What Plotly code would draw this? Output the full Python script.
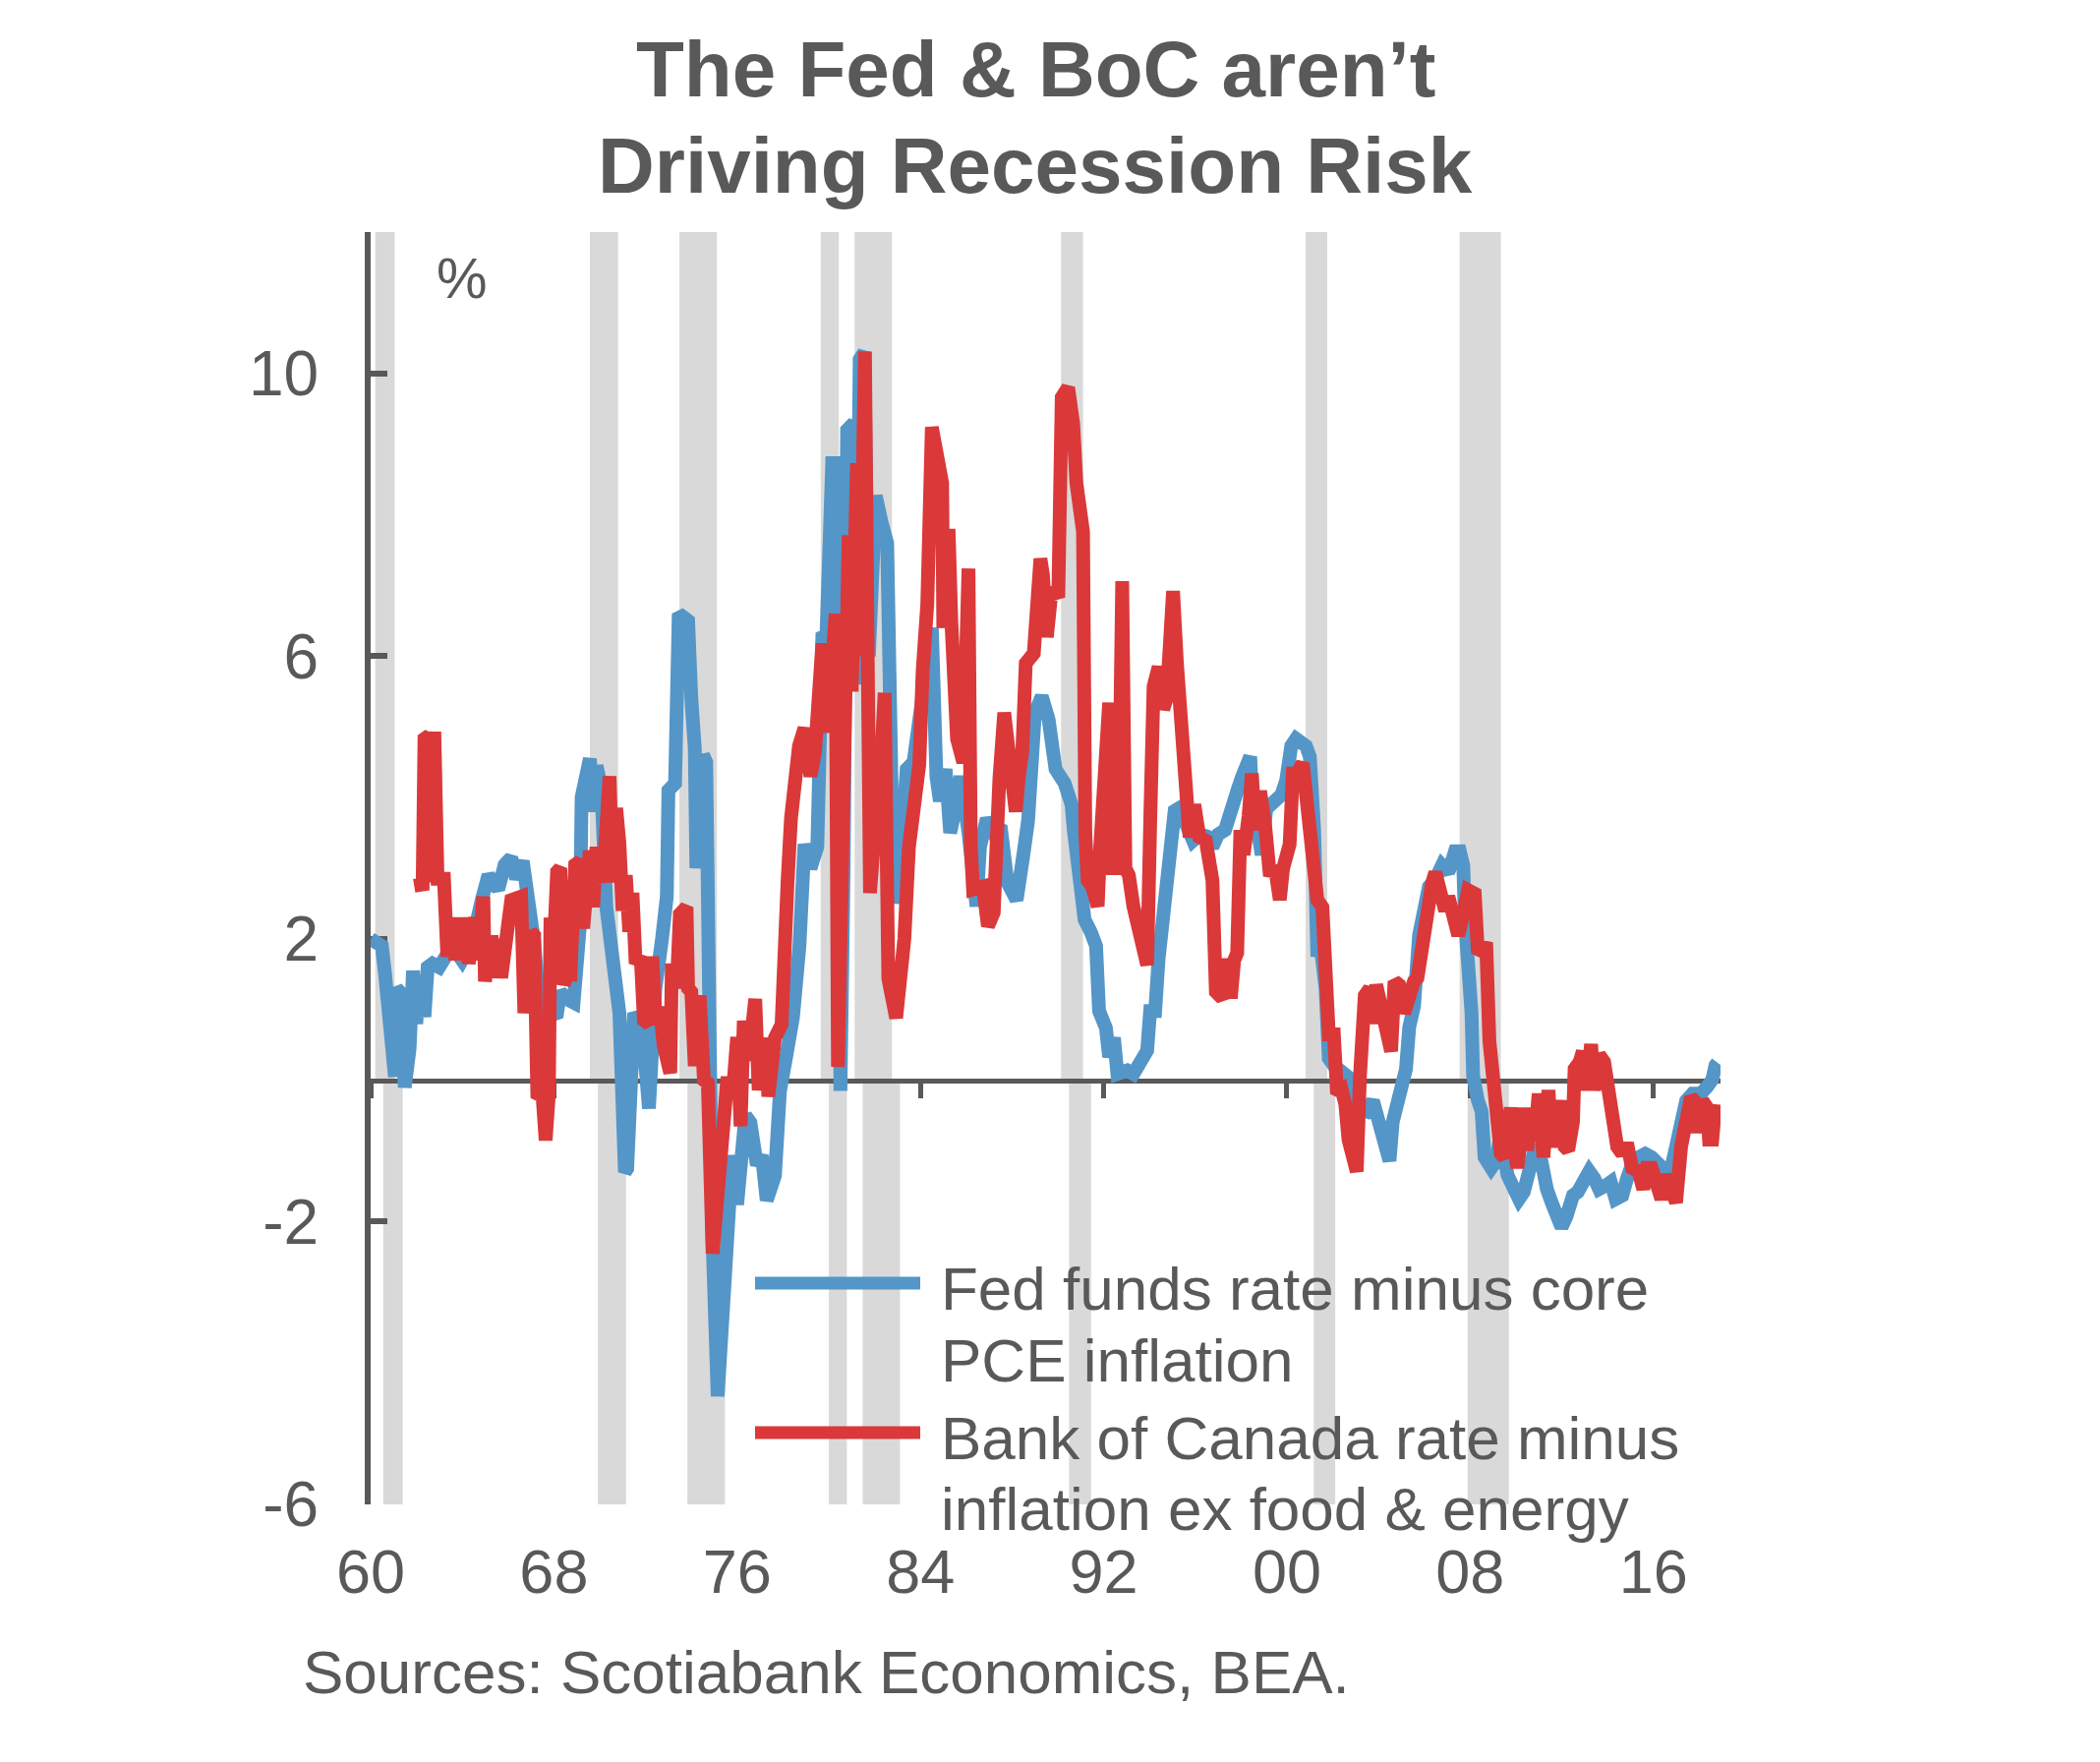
import plotly.graph_objects as go

# ---------------- data ----------------
fed_years = [1960.0, 1960.49, 1960.63, 1960.77, 1960.92, 1961.06, 1961.13, 1961.27, 1961.49, 1961.7,
             1961.85, 1961.99, 1962.13, 1962.35, 1962.49, 1962.7, 1962.99, 1963.28, 1963.56, 1963.99,
             1964.42, 1964.85, 1965.14, 1965.57, 1965.85, 1966.14, 1966.35, 1966.64, 1966.85, 1967.14,
             1967.43, 1967.71, 1968.14, 1968.28, 1968.57, 1968.86, 1969.14, 1969.21, 1969.57, 1969.71,
             1969.86, 1970.07, 1970.29, 1970.57, 1970.86, 1971.1, 1971.2, 1971.5, 1971.86, 1972.15,
             1972.43, 1972.72, 1972.93, 1973.0, 1973.29, 1973.45, 1973.86, 1974.0, 1974.15, 1974.22,
             1974.51, 1974.65, 1974.9, 1975.15, 1975.43, 1975.58, 1975.79, 1976.0, 1976.36, 1976.58,
             1976.86, 1977.08, 1977.29, 1977.65, 1977.87, 1978.15, 1978.44, 1978.72, 1978.94, 1979.2,
             1979.5, 1979.72, 1979.9, 1980.15, 1980.3, 1980.4, 1980.51, 1980.65, 1980.8, 1981.1,
             1981.2, 1981.35, 1981.55, 1981.75, 1982.05, 1982.3, 1982.55, 1982.75, 1982.95, 1983.2,
             1983.4, 1983.7, 1984.0, 1984.3, 1984.5, 1984.7, 1984.85, 1985.1, 1985.3, 1985.5,
             1985.75, 1986.1, 1986.45, 1986.6, 1986.9, 1987.2, 1987.5, 1987.8, 1988.2, 1988.5,
             1988.7, 1989.0, 1989.3, 1989.6, 1989.9, 1990.3, 1990.6, 1990.7, 1990.95, 1991.17,
             1991.45, 1991.67, 1991.8, 1992.1, 1992.24, 1992.45, 1992.6, 1993.03, 1993.3, 1993.6,
             1993.9, 1994.03, 1994.25, 1994.4, 1994.6, 1994.75, 1994.9, 1995.1, 1995.3, 1995.9,
             1996.2, 1996.5, 1996.75, 1997.0, 1997.3, 1997.6, 1997.83, 1998.04, 1998.26, 1998.4,
             1998.47, 1998.69, 1998.9, 1999.1, 1999.47, 1999.76, 1999.97, 2000.19, 2000.4, 2000.6,
             2000.83, 2001.0, 2001.19, 2001.33, 2001.45, 2001.69, 2001.83, 2002.05, 2002.33, 2002.62,
             2002.76, 2002.9, 2003.05, 2003.48, 2003.76, 2004.05, 2004.26, 2004.48, 2004.62, 2004.9,
             2005.2, 2005.34, 2005.55, 2005.77, 2005.98, 2006.2, 2006.48, 2006.77, 2007.05, 2007.34,
             2007.55, 2007.7, 2007.77, 2007.91, 2008.06, 2008.13, 2008.2, 2008.34, 2008.5, 2008.63,
             2008.92, 2009.13, 2009.34, 2009.63, 2009.92, 2010.13, 2010.34, 2010.56, 2010.77, 2010.99,
             2011.13, 2011.35, 2011.56, 2011.78, 2011.99, 2012.2, 2012.35, 2012.49, 2012.7, 2012.92,
             2013.2, 2013.42, 2013.63, 2013.92, 2014.14, 2014.35, 2014.64, 2014.85, 2015.07, 2015.35,
             2015.64, 2015.92, 2016.21, 2016.42, 2016.71, 2016.99, 2017.21, 2017.43, 2017.71, 2018.07,
             2018.35, 2018.57, 2018.71, 2018.8]
fed_values = [2.0, 1.9, 1.5, 1.0, 0.1, 0.05, 1.3, 1.25, -0.1, 0.45,
              1.55, 0.8, 1.4, 0.9, 1.6, 1.65, 1.6, 1.8, 1.9, 1.7,
              1.95, 2.55, 2.9, 2.7, 3.05, 3.15, 2.85, 3.1, 2.7, 1.95,
              0.8, 0.9, 0.95, 1.25, 1.15, 1.1, 2.2, 4.0, 4.55, 3.8,
              4.45, 4.15, 2.45, 1.65, 0.95, -1.3, -1.25, 0.95, 0.75, -0.4,
              1.3, 2.0, 2.6, 4.1, 4.2, 6.6, 6.5, 5.4, 4.7, 3.0,
              4.6, 4.5, -2.0, -4.47, -2.83, -1.9, -1.06, -1.76, -0.5, -0.6,
              -1.2, -1.06, -1.7, -1.35, -0.15, 0.35, 0.9, 1.9, 3.34, 3.0,
              3.3, 6.27, 6.3, 8.73, 8.73, 5.0, -0.15, 3.0, 9.2, 9.3,
              5.6, 10.2, 10.3, 6.0, 8.27, 7.9, 7.6, 4.0, 2.5, 3.4,
              4.4, 4.5, 5.2, 5.9, 6.4, 4.3, 3.95, 4.4, 3.5, 3.8,
              4.3, 3.5, 2.46, 3.3, 3.7, 3.5, 3.6, 2.8, 2.55, 3.2,
              3.67, 5.2, 5.43, 5.1, 4.4, 4.2, 3.9, 3.53, 2.83, 2.27,
              2.09, 1.9, 0.98, 0.74, 0.33, 0.6, 0.09, 0.14, 0.09, 0.23,
              0.42, 0.98, 0.98, 1.72, 2.42, 2.97, 3.3, 3.81, 3.85, 3.39,
              3.48, 3.45, 3.3, 3.48, 3.54, 3.94, 4.09, 4.29, 4.58, 4.58,
              4.04, 3.64, 3.19, 3.84, 3.94, 4.04, 4.24, 4.73, 4.83, 4.78,
              4.73, 4.58, 3.54, 1.75, 1.95, 1.3, 0.31, 0.21, 0.16, 0.06,
              -0.44, -0.74, -0.39, -0.44, -0.29, -0.64, -0.99, -1.14, -0.59, -0.29,
              0.16, 0.75, 1.05, 2.05, 2.55, 2.74, 2.84, 3.04, 2.94, 3.24,
              3.24, 3.04, 2.3, 1.8, 0.95, 0.06, -0.24, -0.29, -0.44, -1.09,
              -1.24, -1.14, -0.74, -1.34, -1.54, -1.68, -1.58, -1.24, -1.04, -0.94,
              -1.24, -1.54, -1.73, -1.98, -2.08, -1.93, -1.78, -1.63, -1.58, -1.44,
              -1.29, -1.39, -1.54, -1.49, -1.44, -1.68, -1.63, -1.39, -1.19, -1.09,
              -1.04, -1.09, -1.19, -1.24, -1.34, -0.94, -0.59, -0.29, -0.19, -0.19,
              -0.09, 0.01, 0.21, 0.25]

boc_years = [1961.9, 1962.27, 1962.35, 1962.56, 1962.63, 1962.78, 1962.92, 1963.2, 1963.35, 1963.56,
             1963.7, 1963.85, 1964.0, 1964.13, 1964.28, 1964.56, 1964.7, 1964.92, 1964.99, 1965.28,
             1965.35, 1965.57, 1965.7, 1965.99, 1966.14, 1966.57, 1966.71, 1967.0, 1967.14, 1967.28,
             1967.5, 1967.64, 1967.78, 1967.85, 1968.0, 1968.14, 1968.28, 1968.43, 1968.57, 1968.64,
             1968.71, 1968.93, 1969.14, 1969.28, 1969.43, 1969.57, 1969.71, 1969.86, 1970.14, 1970.29,
             1970.43, 1970.57, 1970.72, 1970.86, 1971.0, 1971.14, 1971.29, 1971.43, 1971.57, 1971.79,
             1971.93, 1972.15, 1972.29, 1972.43, 1972.65, 1972.79, 1973.08, 1973.15, 1973.36, 1973.5,
             1973.79, 1973.86, 1974.0, 1974.15, 1974.36, 1974.55, 1974.72, 1974.93, 1975.22, 1975.43,
             1975.58, 1975.79, 1976.0, 1976.15, 1976.29, 1976.5, 1976.79, 1976.94, 1977.22, 1977.36,
             1977.65, 1977.94, 1978.1, 1978.2, 1978.35, 1978.7, 1978.94, 1979.2, 1979.4, 1979.72,
             1979.94, 1980.3, 1980.4, 1980.55, 1980.87, 1981.0, 1981.23, 1981.35, 1981.58, 1981.7,
             1981.8, 1982.0, 1982.2, 1982.44, 1982.6, 1982.94, 1983.15, 1983.3, 1983.5, 1983.7,
             1983.95, 1984.1, 1984.3, 1984.5, 1984.73, 1984.95, 1985.0, 1985.23, 1985.35, 1985.45,
             1985.6, 1985.87, 1986.1, 1986.2, 1986.3, 1986.73, 1986.95, 1987.2, 1987.3, 1987.45,
             1987.66, 1987.88, 1988.0, 1988.16, 1988.3, 1988.45, 1988.6, 1988.95, 1989.24, 1989.35,
             1989.52, 1989.74, 1990.02, 1990.17, 1990.45, 1990.67, 1990.81, 1991.1, 1991.2, 1991.3,
             1991.5, 1991.74, 1991.85, 1992.0, 1992.24, 1992.4, 1992.55, 1992.7, 1992.81, 1992.95,
             1993.1, 1993.3, 1993.5, 1993.75, 1993.9, 1994.04, 1994.18, 1994.4, 1994.6, 1994.75,
             1995.03, 1995.2, 1995.46, 1995.6, 1995.75, 1995.96, 1996.18, 1996.46, 1996.75, 1996.9,
             1997.18, 1997.4, 1997.55, 1997.7, 1997.83, 1997.97, 1998.11, 1998.33, 1998.47, 1998.61,
             1998.83, 1999.04, 1999.26, 1999.47, 1999.69, 1999.83, 2000.12, 2000.26, 2000.45, 2000.69,
             2000.9, 2001.12, 2001.33, 2001.55, 2001.69, 2001.83, 2002.05, 2002.19, 2002.4, 2002.55,
             2002.69, 2002.9, 2003.05, 2003.19, 2003.4, 2003.62, 2003.76, 2003.9, 2004.12, 2004.34,
             2004.55, 2004.7, 2004.9, 2005.12, 2005.34, 2005.55, 2005.7, 2005.84, 2005.98, 2006.13,
             2006.34, 2006.48, 2006.7, 2006.91, 2007.05, 2007.27, 2007.48, 2007.7, 2007.91, 2008.2,
             2008.34, 2008.56, 2008.7, 2008.84, 2008.99, 2009.2, 2009.34, 2009.49, 2009.63, 2009.77,
             2009.92, 2010.06, 2010.2, 2010.34, 2010.49, 2010.7, 2010.85, 2010.99, 2011.2, 2011.42,
             2011.56, 2011.78, 2011.92, 2012.13, 2012.28, 2012.49, 2012.56, 2012.78, 2012.92, 2013.06,
             2013.28, 2013.42, 2013.63, 2013.85, 2013.99, 2014.2, 2014.42, 2014.64, 2014.85, 2015.07,
             2015.35, 2015.56, 2015.71, 2015.92, 2016.14, 2016.35, 2016.57, 2016.85, 2016.99, 2017.21,
             2017.43, 2017.64, 2017.78, 2017.93, 2018.14, 2018.35, 2018.43, 2018.57, 2018.71]
boc_values = [2.75, 2.77, 4.83, 4.88, 2.8, 4.93, 2.85, 2.85, 1.75, 2.3,
              1.7, 2.3, 1.7, 2.3, 1.65, 2.3, 1.7, 2.6, 1.4, 2.05,
              1.45, 2.0, 1.45, 2.0, 2.55, 2.6, 0.95, 2.1, 2.05, -0.25,
              -0.2, -0.85, -0.2, 2.3, 1.9, 2.95, 3.0, 1.35, 1.5, 2.55,
              1.4, 3.05, 3.1, 2.15, 3.2, 3.25, 2.45, 3.3, 2.8, 3.9,
              4.3, 2.8, 3.85, 3.35, 2.4, 2.9, 2.1, 2.65, 1.65, 1.75,
              0.85, 0.8, 1.75, 0.95, 0.95, 0.5, 0.1, 1.65, 1.3, 2.35,
              2.45, 1.3, 1.25, 0.2, 1.2, 0.0, -0.04, -2.45, -1.43, -0.88,
              0.05, -0.27, 0.61, -0.65, 0.84, 0.28, 1.15, -0.14, 0.6, -0.23,
              0.6, 0.79, 1.6, 2.8, 3.7, 4.73, 4.98, 4.3, 4.65, 6.18,
              4.92, 6.6, 0.19, 3.0, 7.71, 5.5, 8.73, 6.0, 10.31, 6.0,
              2.65, 3.5, 4.0, 5.48, 1.44, 0.88, 1.44, 2.0, 3.3, 3.76,
              4.46, 5.8, 6.73, 9.24, 8.73, 8.45, 6.4, 7.8, 6.5, 6.0,
              4.83, 4.5, 7.24, 3.3, 2.7, 2.74, 2.18, 2.37, 4.2, 4.27,
              5.2, 4.6, 4.37, 3.8, 4.3, 4.65, 5.9, 6.04, 7.38, 7.15,
              6.27, 6.97, 6.83, 9.66, 9.8, 9.29, 8.45, 7.76, 3.5, 2.83,
              2.74, 2.46, 3.3, 4.5, 5.34, 3.0, 3.0, 4.4, 7.06, 3.0,
              2.9, 2.46, 2.09, 1.72, 1.63, 3.76, 5.57, 5.85, 5.25, 5.4,
              6.92, 5.9, 4.65, 4.0, 3.44, 3.9, 3.44, 3.39, 2.83, 1.25,
              1.16, 1.72, 1.16, 1.7, 1.8, 3.54, 3.19, 3.74, 4.34, 3.54,
              4.09, 3.64, 2.89, 3.04, 2.55, 2.99, 3.34, 4.34, 4.34, 4.49,
              3.89, 3.44, 2.55, 2.45, 1.3, 0.65, 0.65, -0.19, -0.14, -0.34,
              -0.84, -1.19, -1.29, 0.06, 1.2, 1.3, 0.8, 1.35, 0.95, 0.56,
              0.41, 1.4, 1.35, 0.95, 1.3, 1.4, 1.45, 1.75, 2.3, 2.45,
              2.79, 2.94, 2.64, 2.4, 2.6, 2.35, 2.05, 2.35, 2.69, 2.64,
              1.8, 1.85, 1.95, 0.56, -0.09, -0.64, -1.04, -1.09, -0.69, -0.39,
              -0.94, -1.24, -0.89, -0.39, -0.99, -0.49, -0.74, -0.19, -1.09, -0.14,
              -0.94, -0.39, -0.29, -0.94, -0.99, -0.59, 0.16, 0.26, 0.41, -0.14,
              0.51, -0.14, 0.36, 0.26, -0.14, -0.44, -0.94, -1.04, -0.89, -1.24,
              -1.29, -1.54, -1.24, -1.24, -1.54, -1.68, -1.34, -1.68, -1.73, -0.94,
              -0.64, -0.24, -0.29, -0.74, -0.29, -0.39, -0.84, -0.84, -0.34]

# recession periods (as shaded in the source, upper half); lower half drawn slightly offset
recession_start = [1960.2, 1969.57, 1973.48, 1979.65, 1981.13, 1990.14, 2000.82, 2007.54]
recession_end = [1961.05, 1970.8, 1975.12, 1980.44, 1982.76, 1991.1, 2001.76, 2009.34]
lower_offset = 0.35

x_tick_vals = [1960, 1968, 1976, 1984, 1992, 2000, 2008, 2016]
x_tick_text = ["60", "68", "76", "84", "92", "00", "08", "16"]
y_tick_vals = [-6, -2, 2, 6, 10]
y_tick_text = ["-6", "-2", "2", "6", "10"]
x_range = [1960, 2018.93]
y_range = [-6, 12]

title_lines = ["The Fed & BoC aren\u2019t", "Driving Recession Risk"]
fed_label = ["Fed funds rate minus core", "PCE inflation"]
boc_label = ["Bank of Canada rate minus", "inflation ex food & energy"]
source_text = "Sources: Scotiabank Economics, BEA."

# ---------------- style ----------------
BLUE = "#5496c8"
RED = "#db383a"
GREY = "#595959"
SHADE = "#d9d9d9"
FONT = "Liberation Sans, Arial, sans-serif"

W, H = 2136, 1792
L, R, T, B = 377, 386, 236, 262
pw, ph = W - L - R, H - T - B


def px(xp):
    return (xp - L) / pw


def py(yp):
    return (H - B - yp) / ph


fig = go.Figure()

fig.add_trace(go.Scatter(x=fed_years, y=fed_values, mode="lines",
                         line=dict(color=BLUE, width=14), showlegend=False, hoverinfo="skip"))
fig.add_trace(go.Scatter(x=boc_years, y=boc_values, mode="lines",
                         line=dict(color=RED, width=14), showlegend=False, hoverinfo="skip"))
# invisible trace to carry the zero-line axis
fig.add_trace(go.Scatter(x=[x_range[0]], y=[0], xaxis="x2", yaxis="y", mode="markers",
                         marker=dict(opacity=0), showlegend=False, hoverinfo="skip"))

shapes = []
for s, e in zip(recession_start, recession_end):
    shapes.append(dict(type="rect", xref="x", yref="y", x0=s, x1=e, y0=0, y1=y_range[1],
                       fillcolor=SHADE, line=dict(width=0), layer="below"))
    shapes.append(dict(type="rect", xref="x", yref="y", x0=s + lower_offset, x1=e + lower_offset,
                       y0=y_range[0], y1=0, fillcolor=SHADE, line=dict(width=0), layer="below"))

# legend samples
shapes.append(dict(type="line", xref="paper", yref="paper", x0=px(768), x1=px(936), y0=py(1305), y1=py(1305),
                   line=dict(color=BLUE, width=13)))
shapes.append(dict(type="line", xref="paper", yref="paper", x0=px(768), x1=px(936), y0=py(1457), y1=py(1457),
                   line=dict(color=RED, width=13)))

annotations = []
for i, t in enumerate(title_lines):
    annotations.append(dict(text="<b>" + t + "</b>", xref="paper", yref="paper", x=px(1053), y=py([71, 168][i]),
                            xanchor="center", yanchor="middle", showarrow=False,
                            font=dict(family=FONT, size=80, color=GREY)))
for i, t in enumerate(fed_label):
    annotations.append(dict(text=t, xref="paper", yref="paper", x=px(955), y=py([1310, 1383][i]),
                            xanchor="left", yanchor="middle", showarrow=False,
                            font=dict(family=FONT, size=62, color=GREY)))
for i, t in enumerate(boc_label):
    annotations.append(dict(text=t, xref="paper", yref="paper", x=px(955), y=py([1462, 1534][i]),
                            xanchor="left", yanchor="middle", showarrow=False,
                            font=dict(family=FONT, size=62, color=GREY)))
annotations.append(dict(text="%", xref="paper", yref="paper", x=px(470), y=py(282),
                        xanchor="center", yanchor="middle", showarrow=False,
                        font=dict(family=FONT, size=58, color=GREY)))
annotations.append(dict(text=source_text, xref="paper", yref="paper", x=px(306), y=py(1700),
                        xanchor="left", yanchor="middle", showarrow=False,
                        font=dict(family=FONT, size=62, color=GREY)))

fig.update_layout(
    width=W, height=H,
    margin=dict(l=L, r=R, t=T, b=B, pad=0),
    paper_bgcolor="white", plot_bgcolor="white",
    font=dict(family=FONT, color=GREY),
    shapes=shapes, annotations=annotations,
    xaxis=dict(range=x_range, tickvals=x_tick_vals, ticktext=x_tick_text, ticks="",
               showline=False, showgrid=False, zeroline=False,
               tickfont=dict(family=FONT, size=63, color=GREY), ticklabelstandoff=26),
    xaxis2=dict(range=x_range, overlaying="x", anchor="free", position=-y_range[0] / (y_range[1] - y_range[0]),
                side="bottom", tickvals=x_tick_vals, showticklabels=False,
                ticks="outside", ticklen=15, tickwidth=5, tickcolor=GREY,
                showline=True, linecolor=GREY, linewidth=5, showgrid=False, zeroline=False,
                layer="below traces"),
    yaxis=dict(range=y_range, tickvals=y_tick_vals, ticktext=y_tick_text, ticks="inside", ticklen=17,
               tickwidth=6, tickcolor=GREY, showline=True, linecolor=GREY, linewidth=6,
               showgrid=False, zeroline=False, layer="below traces",
               tickfont=dict(family=FONT, size=64, color=GREY), ticklabelstandoff=34),
)

fig.write_html("out.html")
